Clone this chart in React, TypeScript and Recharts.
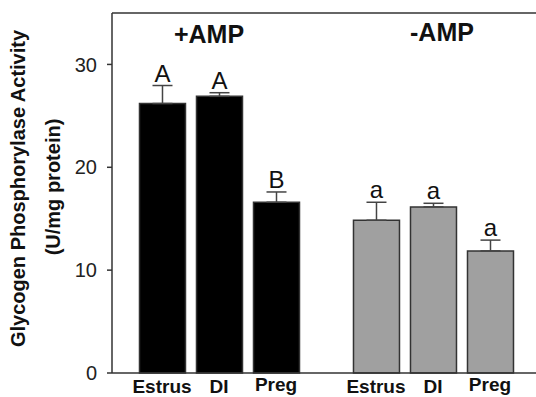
import React from 'react';
import { BarChart, Bar, XAxis, YAxis, Cell, ErrorBar, LabelList, ReferenceLine } from 'recharts';

const categories = ['Estrus', 'DI', 'Preg', 'Estrus', 'DI', 'Preg'];
const positions = [1, 2, 3, 4.754, 5.754, 6.754];
const groups = ['+AMP', '+AMP', '+AMP', '-AMP', '-AMP', '-AMP'];
const means = [26.2, 26.9, 16.6, 14.85, 16.15, 11.87];
const errors = [1.75, 0.35, 1.0, 1.75, 0.35, 1.05];
const letters = ['A', 'A', 'B', 'a', 'a', 'a'];
const yTicks = [0, 10, 20, 30];

const FONT = '"Liberation Sans", Arial, Helvetica, sans-serif';

const data = categories.map((name, i) => ({
  name,
  pos: positions[i],
  group: groups[i],
  mean: means[i],
  err: [0, errors[i]],
  letter: letters[i],
}));

const LetterLabel = (props: any) => {
  const { x, y, width, height, index } = props;
  const d = data[index];
  const pxPerUnit = height / d.mean;
  const top = y - errors[index] * pxPerUnit;
  return (
    <text
      x={x + width / 2}
      y={top - 4}
      textAnchor="middle"
      fontFamily={FONT}
      fontSize={24}
      fill="#111"
    >
      {d.letter}
    </text>
  );
};

// category names under the bars; "Preg" sits a touch higher like the original
const CategoryTick = (props: any) => {
  const { x, payload, index } = props;
  const name = categories[index];
  const baseline = name === 'Preg' ? 391 : 393;
  return (
    <text x={x} y={baseline} textAnchor="middle" fontFamily={FONT} fontSize={19} fontWeight="bold" fill="#111">
      {name ?? payload.value}
    </text>
  );
};

const App: React.FC = () => {
  return (
    <div style={{ position: 'absolute', left: 0, top: 0, width: 536, height: 397, overflow: 'hidden', background: '#fff' }}>
      <BarChart
        width={536}
        height={397}
        data={data}
        margin={{ top: 13, right: 0, left: 0, bottom: 0 }}
      >
        <XAxis
          dataKey="pos"
          type="number"
          domain={[0.123, 7.561]}
          allowDataOverflow
          ticks={positions}
          tickLine={false}
          axisLine={{ stroke: '#333', strokeWidth: 1.5 }}
          height={24}
          interval={0}
          tick={<CategoryTick />}
        />
        <YAxis
          domain={[0, 35]}
          ticks={yTicks}
          width={112}
          tickSize={5}
          tickMargin={10}
          axisLine={{ stroke: '#333', strokeWidth: 1.5 }}
          tickLine={{ stroke: '#333', strokeWidth: 1.5 }}
          tick={{ fontFamily: FONT, fontSize: 20, fill: '#222' }}
        />
        <ReferenceLine y={35} stroke="#333" strokeWidth={1.5} />
        <Bar dataKey="mean" barSize={46} isAnimationActive={false}>
          {data.map((d, i) => (
            <Cell
              key={`cell-${i}`}
              fill={d.group === '+AMP' ? '#000' : '#a0a0a0'}
              stroke="#333"
              strokeWidth={1.5}
            />
          ))}
          <ErrorBar dataKey="err" width={10} stroke="#444" strokeWidth={1.5} direction="y" />
          <LabelList dataKey="letter" content={LetterLabel} />
        </Bar>
      </BarChart>
      <svg
        width={536}
        height={397}
        style={{ position: 'absolute', left: 0, top: 0, pointerEvents: 'none' }}
      >
        <text x={209} y={43} textAnchor="middle" fontFamily={FONT} fontSize={25} fontWeight="bold" fill="#111">+AMP</text>
        <text x={442} y={41} textAnchor="middle" fontFamily={FONT} fontSize={25} fontWeight="bold" fill="#111">-AMP</text>
        <text
          transform="translate(25,188.5) rotate(-90)"
          textAnchor="middle"
          fontFamily={FONT}
          fontSize={20}
          fontWeight="bold"
          fill="#111"
        >
          Glycogen Phosphorylase Activity
        </text>
        <text
          transform="translate(60,187) rotate(-90)"
          textAnchor="middle"
          fontFamily={FONT}
          fontSize={20}
          fontWeight="bold"
          fill="#111"
        >
          (U/mg protein)
        </text>
      </svg>
    </div>
  );
};

export default App;
